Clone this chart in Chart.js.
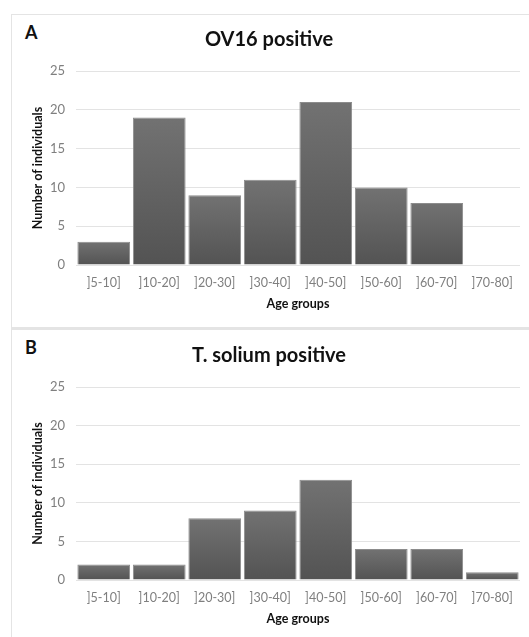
<!DOCTYPE html>
<html>
<head>
<meta charset="utf-8">
<script src="https://cdn.jsdelivr.net/npm/chart.js@4.4.1/dist/chart.umd.min.js"></script>
<style>
  html, body { margin: 0; padding: 0; background: #fff; }
  body { width: 529px; height: 637px; position: relative; overflow: hidden; font-family: Lato, "Open Sans", sans-serif; }
  .panel { position: absolute; left: 11px; width: 540px; border: 1px solid #e4e4e4; box-sizing: border-box; }
  #panelA { top: 14px; height: 315px; border-bottom-width: 2px; }
  #panelB { top: 328px; height: 330px; border-top-width: 2px; }
  .letter { position: absolute; font-weight: bold; font-size: 18px; color: #111; }
  .wrap { position: absolute; left: 12px; width: 517px; }
</style>
</head>
<body>
<div class="panel" id="panelA"></div>
<div class="panel" id="panelB"></div>
<div class="letter" style="left:25px; top:21px;">A</div>
<div class="letter" style="left:25px; top:336px;">B</div>
<div class="wrap" style="top:15px; height:312px;"><canvas id="chartA" width="517" height="312"></canvas></div>
<div class="wrap" style="top:331px; height:306px;"><canvas id="chartB" width="517" height="306"></canvas></div>
<script>
// Age group categories shared by both panels
const ageGroups = [']5-10]', ']10-20]', ']20-30]', ']30-40]', ']40-50]', ']50-60]', ']60-70]', ']70-80]'];

// Number of positive individuals per age group
const ov16Positive = [3, 19, 9, 11, 21, 10, 8, 0];
const tsoliumPositive = [2, 2, 8, 9, 13, 4, 4, 1];

const yTicks = [0, 5, 10, 15, 20, 25];

const tickColor = '#7f7f7f';
const gridColor = '#e3e3e3';
const fontFamily = 'Lato, "Open Sans", sans-serif';

function barGradient(ctx) {
  const chart = ctx.chart;
  const y = chart.scales.y;
  if (!y || ctx.raw === undefined) return '#5f5f5f';
  const top = y.getPixelForValue(ctx.raw);
  const bottom = y.getPixelForValue(0);
  if (!isFinite(top) || top === bottom) return '#5f5f5f';
  const g = chart.ctx.createLinearGradient(0, top, 0, bottom);
  g.addColorStop(0, '#727272');
  g.addColorStop(1, '#535353');
  return g;
}

function makeChart(id, title, values, bottomPad) {
  const ctx = document.getElementById(id);
  return new Chart(ctx, {
    type: 'bar',
    data: {
      labels: ageGroups,
      datasets: [{
        data: values,
        backgroundColor: barGradient,
        borderColor: '#8c8c8c',
        borderWidth: 1,
        barPercentage: 0.95,
        categoryPercentage: 1
      }]
    },
    options: {
      responsive: false,
      animation: false,
      layout: { padding: { left: 6, right: 9, top: 0, bottom: bottomPad } },
      plugins: {
        legend: { display: false },
        tooltip: { enabled: false },
        title: {
          display: true,
          text: title,
          color: '#111',
          font: { family: fontFamily, size: 20, weight: 'bold' },
          padding: { top: 13, bottom: 19 }
        }
      },
      scales: {
        x: {
          grid: { display: false, drawTicks: false },
          border: { display: false },
          ticks: {
            color: tickColor,
            padding: 10,
            font: { family: fontFamily, size: 12.5 },
            maxRotation: 0
          },
          title: {
            display: true,
            text: 'Age groups',
            color: '#111',
            font: { family: fontFamily, size: 12.5, weight: 'bold' },
            padding: { top: -4, bottom: 0 }
          }
        },
        y: {
          min: 0,
          max: 25,
          afterFit: scale => { scale.width = 58; },
          afterBuildTicks: scale => { scale.ticks = yTicks.map(v => ({ value: v })); },
          grid: { color: gridColor, lineWidth: 1, drawTicks: false },
          border: { display: false },
          ticks: {
            color: tickColor,
            padding: 11,
            font: { family: fontFamily, size: 13 }
          },
          title: {
            display: true,
            text: 'Number of individuals',
            color: '#111',
            font: { family: fontFamily, size: 12.5, weight: 'bold' },
            padding: { top: 12, bottom: 0 }
          }
        }
      }
    }
  });
}

makeChart('chartA', 'OV16 positive', ov16Positive, 16);
makeChart('chartB', 'T. solium positive', tsoliumPositive, 11);
</script>
</body>
</html>
